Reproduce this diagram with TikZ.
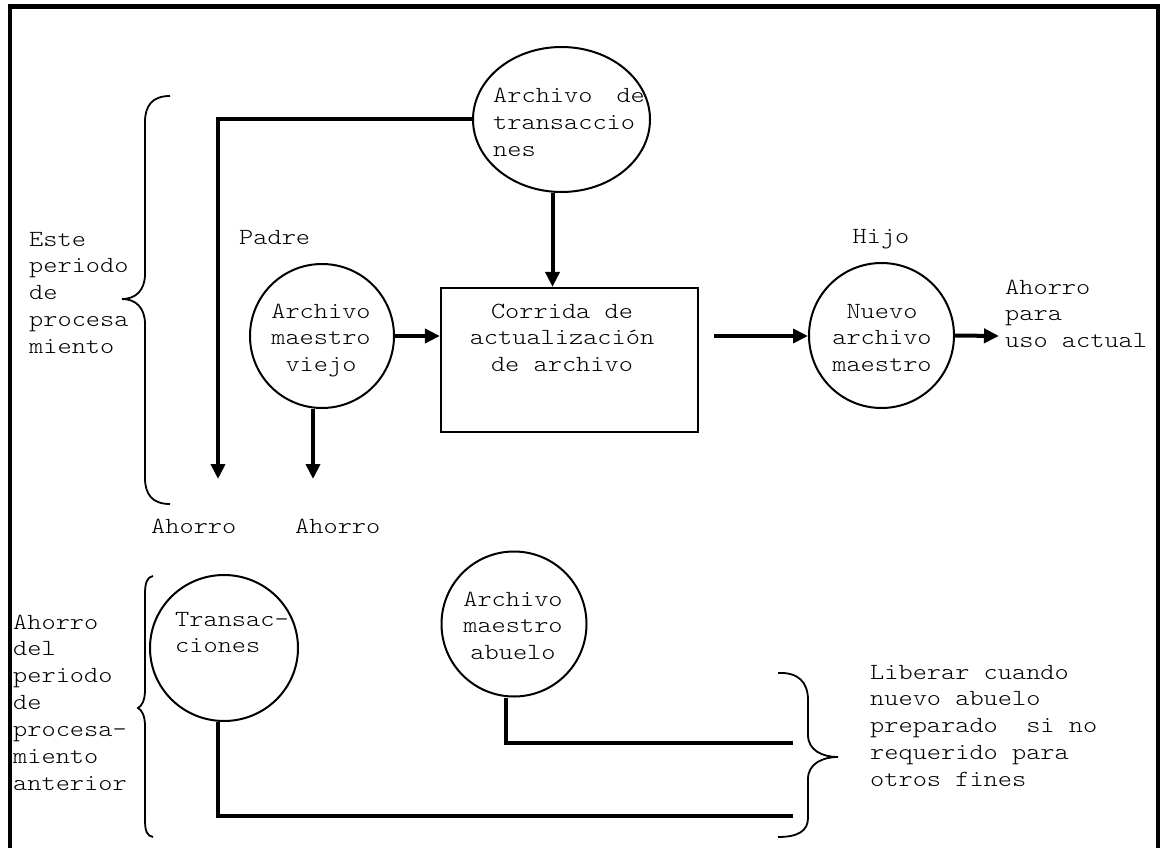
\documentclass[tikz,border=0pt]{standalone}
\usepackage{fontspec}
\newfontfamily\cour[FakeStretch=1.17]{lmmonolt10-regular.otf}
\usetikzlibrary{arrows.meta,shapes.geometric}
\newcommand{\tb}[2]{\begin{tabular}[t]{@{}#1@{}}#2\end{tabular}}
\begin{document}
\begin{tikzpicture}[x=1pt,y=-1pt,
  txt/.style={font=\cour\fontsize{23.1}{26.9}\selectfont, inner sep=0pt},
  conn/.style={line width=4pt},
  arr/.style={conn,-{Triangle[length=15pt,width=14pt]}},
  shp/.style={draw, line width=2pt, inner sep=0pt},
  brace/.style={line width=1.8pt}]
\useasboundingbox (0,0) rectangle (1162,848);
% frame (open at the bottom)
\draw[line width=4pt] (10,6) -- (10,848);
\draw[line width=4pt] (1158,6) -- (1158,848);
\draw[line width=5pt] (8,6.5) -- (1160,6.5);
% shapes
\node[shp, ellipse, minimum width=177pt, minimum height=145pt] (trans) at (561.5,119.5) {};
\node[shp, circle, minimum size=144pt] (viejo) at (322,336) {};
\node[shp, rectangle, line width=2.2pt, minimum width=257pt, minimum height=144pt] (upd) at (569.5,360) {};
\node[shp, circle, minimum size=145pt] (nuevo) at (881.5,335.5) {};
\node[shp, ellipse, minimum width=148pt, minimum height=146pt] (tx) at (224,648) {};
\node[shp, circle, minimum size=145pt] (abuelo) at (514,624) {};
% free ends
\coordinate (sv1) at (218,479);
\coordinate (sv2) at (313,479);
\coordinate (outA) at (714,336);
\coordinate (use) at (999,336);
\coordinate (rel1) at (793,743);
\coordinate (rel2) at (793,816);
% connectors
\draw[arr] (trans.west) -| (sv1);
\draw[arr] ([xshift=-9pt]trans.south) -- ([xshift=-9pt]trans.south |- upd.north);
\draw[arr] (viejo.east) -- (viejo.east -| upd.west);
\draw[arr] ([xshift=-9pt]viejo.south) -- (sv2);
\draw[arr] (outA) -- (outA -| nuevo.west);
\draw[arr] (nuevo.east) -- (use);
\draw[conn] ([xshift=-6pt]tx.south) |- (rel2);
\draw[conn] ([xshift=-8pt]abuelo.south) |- (rel1);
% braces
\draw[brace] (170,96) .. controls (152,96) and (145,106) .. (145,122) -- (145,274)
  .. controls (145,290) and (136,299) .. (122,299)
  .. controls (136,299) and (145,308) .. (145,324) -- (145,478)
  .. controls (145,494) and (152,504) .. (170,504);
\draw[brace] (153,576) .. controls (147,577) and (145,583) .. (145,594) -- (145,690)
  .. controls (145,700) and (142,706) .. (138,708)
  .. controls (142,710) and (145,716) .. (145,726) -- (145,820)
  .. controls (145,831) and (147,836) .. (153,837);
\draw[brace] (778,673) .. controls (798,672) and (808,682) .. (808,700) -- (808,735)
  .. controls (808,750) and (822,757) .. (838,757)
  .. controls (822,757) and (808,764) .. (808,779) -- (808,818)
  .. controls (808,831) and (798,837) .. (778,837);
% texts
\node[txt, anchor=base west] (lblA) at (29,246) {\tb{l}{Este\\periodo\\de\\procesa\\miento}};
\node[txt, anchor=base west] (padre) at (239,244) {Padre};
\node[txt, anchor=base west] (transtxt) at (493,103) {\tb{l}{Archivo\hspace*{24pt}de\\transaccio\\nes}};
\node[txt, anchor=base] (viejotxt) at (321,318) {\tb{c}{Archivo\\maestro\\viejo}};
\node[txt, anchor=base] (updtxt) at (562,318) {\tb{c}{Corrida de\\actualización\\de archivo}};
\node[txt, anchor=base] (hijo) at (881,243) {Hijo};
\node[txt, anchor=base] (nuevotxt) at (882,318) {\tb{c}{Nuevo\\archivo\\maestro}};
\node[txt, anchor=base west] (usotxt) at (1005,294) {\tb{l}{Ahorro\\para\\uso actual}};
\node[txt, anchor=base west] (ah1) at (151,533) {Ahorro};
\node[txt, anchor=base west] (ah2) at (295,533) {Ahorro};
\node[txt, anchor=base west] (prevtxt) at (13,629) {\tb{l}{Ahorro\\del\\periodo\\de\\procesa-\\miento\\anterior}};
\node[txt, anchor=base west] (txtxt) at (175,626) {\tb{l}{Transac-\\ciones}};
\node[txt, anchor=base] (abuelotxt) at (513,606) {\tb{c}{Archivo\\maestro\\abuelo}};
\node[txt, anchor=base west] (libtxt) at (870,679) {\tb{l}{Liberar cuando\\nuevo abuelo\\preparado~~si no\\requerido para\\otros fines}};
\end{tikzpicture}
\end{document}
